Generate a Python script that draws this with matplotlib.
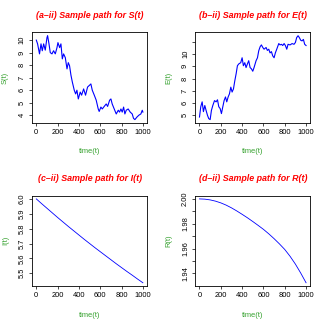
import matplotlib
matplotlib.use("Agg")
import numpy as np
import matplotlib.pyplot as plt

plt.rcParams['font.family'] = ['Liberation Sans', 'DejaVu Sans']

# sample path S(t)
s_t = [0, 12, 30, 44, 56, 69, 84, 100, 106, 119, 131, 147, 162, 178, 194, 203, 219, 231,
       244, 256, 272, 288, 300, 312, 325, 338, 356, 369, 381, 394, 412, 425, 444, 462,
       481, 500, 512, 525, 544, 562, 581, 590, 606, 619, 637, 656, 669, 688, 700, 712,
       731, 750, 769, 781, 794, 806, 819, 831, 844, 862, 881, 900, 912, 925, 944, 962,
       981, 994, 1000]
s_v = [10.0, 9.7, 8.9, 9.7, 9.15, 9.7, 9.2, 10.2, 10.35, 9.7, 9.0, 8.9, 9.15, 8.9, 9.4,
       9.8, 9.4, 9.7, 8.5, 8.9, 8.6, 7.7, 8.2, 7.95, 7.2, 6.65, 6.0, 5.7, 6.0, 5.3, 5.85,
       5.6, 6.1, 5.6, 6.25, 6.4, 6.5, 6.0, 5.6, 5.2, 4.5, 4.3, 4.65, 4.5, 4.7, 4.9, 4.7,
       5.2, 5.3, 4.9, 4.5, 4.1, 4.4, 4.25, 4.5, 4.25, 4.65, 4.1, 4.4, 4.5, 4.25, 4.1,
       3.75, 3.65, 3.85, 4.0, 4.1, 4.4, 4.25]

# sample path E(t)
e_t = [0, 12, 25, 37, 50, 62, 75, 87, 100, 112, 125, 141, 156, 169, 181, 194, 206, 219,
       231, 244, 256, 269, 281, 294, 306, 319, 331, 344, 356, 369, 387, 400, 412, 425,
       437, 450, 462, 475, 487, 500, 512, 531, 544, 556, 569, 581, 594, 606, 625, 637,
       650, 662, 675, 687, 700, 712, 725, 744, 756, 769, 781, 794, 806, 819, 831, 850,
       869, 887, 900, 912, 925, 937, 950, 962, 975, 987, 1000]
e_v = [4.86, 5.7, 6.1, 5.3, 5.8, 5.4, 5.0, 4.73, 4.65, 5.4, 5.8, 6.2, 6.1, 6.27, 5.7,
       5.55, 5.14, 5.7, 6.2, 6.5, 6.1, 6.5, 6.75, 7.3, 6.9, 7.16, 7.8, 8.4, 9.05, 9.2,
       9.3, 9.7, 9.05, 9.3, 8.9, 9.2, 9.46, 8.9, 8.8, 8.6, 8.9, 9.46, 9.7, 10.27, 10.6,
       10.75, 10.54, 10.4, 10.54, 10.3, 10.4, 10.1, 10.2, 9.86, 9.7, 10.1, 10.4, 10.86,
       10.75, 10.8, 10.7, 10.86, 10.7, 10.4, 10.8, 10.75, 10.86, 10.8, 10.95, 11.35,
       11.5, 11.35, 11.13, 11.08, 11.2, 10.8, 10.7]

# I(t) and R(t)
ir_t = [0, 50, 100, 150, 200, 250, 300, 350, 400, 450, 500, 550, 600, 650, 700, 750,
        800, 850, 900, 950, 1000]
i_v = [6.000, 5.968, 5.937, 5.906, 5.875, 5.845, 5.815, 5.786, 5.757, 5.728, 5.700,
       5.672, 5.645, 5.618, 5.591, 5.564, 5.538, 5.512, 5.487, 5.461, 5.436]
r_v = [2.0000, 1.9998, 1.9992, 1.9982, 1.9968, 1.9950, 1.9928, 1.9903, 1.9876, 1.9848,
       1.9818, 1.9787, 1.9755, 1.9719, 1.9680, 1.9638, 1.9593, 1.9538, 1.9475, 1.9403,
       1.9325]

x_ticks = [0, 200, 400, 600, 800, 1000]

panels = [
    ("(a\u2013ii) Sample path for S(t)", "S(t)", s_t, s_v, [4, 5, 6, 7, 8, 9, 10], None, 0.8),
    ("(b\u2013ii) Sample path for E(t)", "E(t)", e_t, e_v, [5, 6, 7, 8, 9, 10, 11],
     ["5", "6", "7", "8", "9", "10", ""], 0.8),
    ("(c\u2013ii) Sample path for I(t)", "I(t)", ir_t, i_v, [5.5, 5.6, 5.7, 5.8, 5.9, 6.0],
     ["5.5", "5.6", "5.7", "5.8", "5.9", "6.0"], 0.6),
    ("(d\u2013ii) Sample path for R(t)", "R(t)", ir_t, r_v,
     [1.94, 1.95, 1.96, 1.97, 1.98, 1.99, 2.00],
     ["1.94", "", "1.96", "", "1.98", "", "2.00"], 0.6),
]

fig = plt.figure(figsize=(3.27, 3.27), dpi=100)
lefts = [0.098, 0.597]
bottoms = [0.624, 0.125]
green = '#33a02c'

for k, (title, ylab, tt, vv, yt, ytl, lw) in enumerate(panels):
    ax = fig.add_axes([lefts[k % 2], bottoms[k // 2], 0.352, 0.277])
    ax.plot(tt, vv, color='blue', lw=lw)
    ax.margins(x=0.04, y=0.04)
    ax.set_xticks(x_ticks)
    ax.set_yticks(yt)
    if ytl is not None:
        ax.set_yticklabels(ytl)
    ax.tick_params(labelsize=5.4, length=2.5, width=0.5, pad=2, colors='black')
    ax.tick_params(axis='y', labelrotation=90)
    for lab in ax.get_yticklabels():
        lab.set_va('center')
    for sp in ax.spines.values():
        sp.set_linewidth(0.6)
    ax.set_title(title, color='red', fontsize=6.4, fontweight='bold', fontstyle='italic',
                 y=1.19, va='center', pad=0)
    ax.set_xlabel("time(t)", color=green, fontsize=5.4)
    ax.set_ylabel(ylab, color=green, fontsize=5.4)
    ax.xaxis.set_label_coords(0.5, -0.32)
    ax.yaxis.set_label_coords(-0.23, 0.5)
    ax.xaxis.label.set_va('center')
    ax.yaxis.label.set_va('center')

fig.savefig("out.png", dpi=100)
